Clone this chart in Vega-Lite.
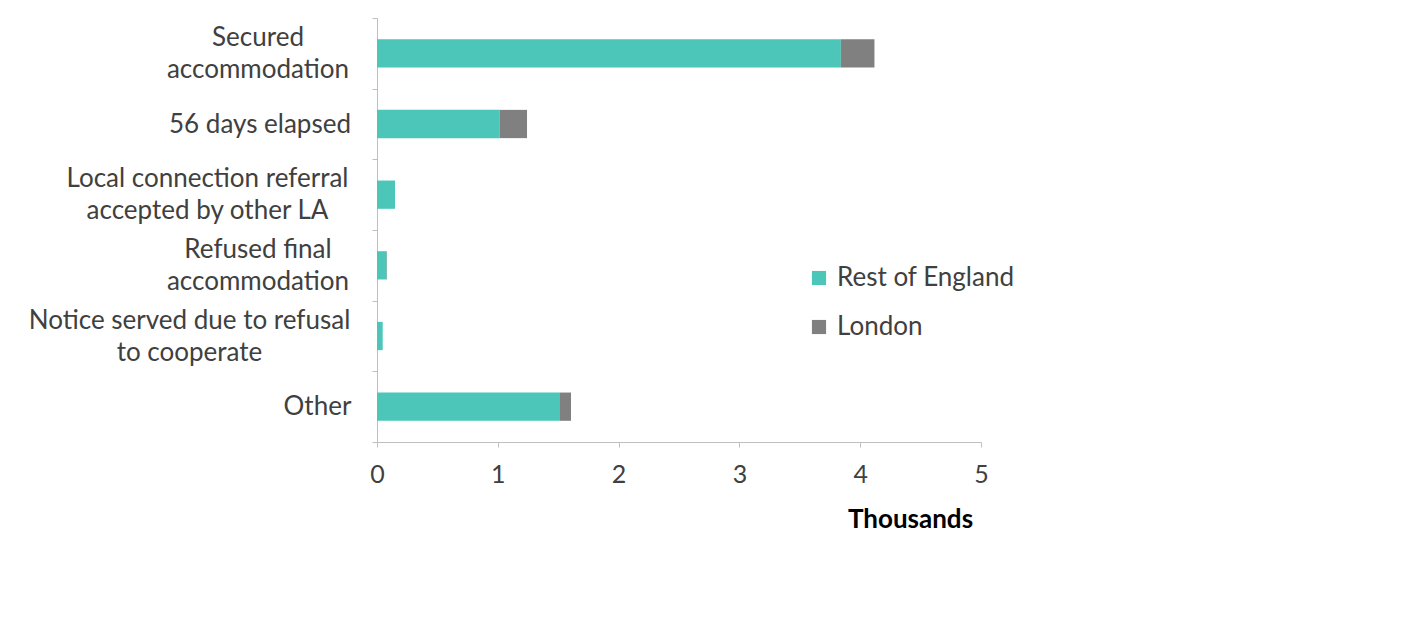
{
  "$schema": "https://vega.github.io/schema/vega-lite/v6.json",
  "width": 604,
  "height": 424,
  "autosize": {"type": "none"},
  "padding": {"left": 377, "top": 18, "right": 438, "bottom": 176},
  "background": "white",
  "config": {
    "view": {"stroke": null},
    "font": "Lato"
  },
  "data": {
    "values": [
      {"reason": "Secured accommodation", "region": "Rest of England", "thousands": 3.84},
      {"reason": "Secured accommodation", "region": "London", "thousands": 0.278},
      {"reason": "56 days elapsed", "region": "Rest of England", "thousands": 1.016},
      {"reason": "56 days elapsed", "region": "London", "thousands": 0.226},
      {"reason": "Local connection referral accepted by other LA", "region": "Rest of England", "thousands": 0.149},
      {"reason": "Local connection referral accepted by other LA", "region": "London", "thousands": 0.0},
      {"reason": "Refused final accommodation", "region": "Rest of England", "thousands": 0.08},
      {"reason": "Refused final accommodation", "region": "London", "thousands": 0.003},
      {"reason": "Notice served due to refusal to cooperate", "region": "Rest of England", "thousands": 0.047},
      {"reason": "Notice served due to refusal to cooperate", "region": "London", "thousands": 0.0},
      {"reason": "Other", "region": "Rest of England", "thousands": 1.515},
      {"reason": "Other", "region": "London", "thousands": 0.091}
    ]
  },
  "mark": {"type": "bar", "height": {"band": 0.4}},
  "encoding": {
    "y": {
      "field": "reason",
      "type": "nominal",
      "sort": null,
      "scale": {"paddingInner": 0, "paddingOuter": 0},
      "axis": {
        "title": null,
        "tickBand": "extent",
        "domainColor": "#BFBFBF",
        "tickColor": "#BFBFBF",
        "tickSize": 5,
        "labelFont": "Lato",
        "labelFontSize": 26,
        "labelColor": "#404040",
        "labelAlign": "center",
        "labelBaseline": "middle",
        "labelLineHeight": 32,
        "labelLimit": 0,
        "labelOffset": {
          "condition": [
            {"test": "datum.value == '56 days elapsed' || datum.value == 'Other'", "value": 0}
          ],
          "value": -16
        },
        "labelPadding": {
          "condition": [
            {"test": "datum.value == 'Secured accommodation'", "value": 114.5},
            {"test": "datum.value == '56 days elapsed'", "value": 112.5},
            {"test": "datum.value == 'Local connection referral accepted by other LA'", "value": 165},
            {"test": "datum.value == 'Refused final accommodation'", "value": 114.5},
            {"test": "datum.value == 'Notice served due to refusal to cooperate'", "value": 183}
          ],
          "value": 55
        },
        "labelExpr": "datum.value == 'Secured accommodation' ? ['Secured', 'accommodation'] : datum.value == 'Local connection referral accepted by other LA' ? ['Local connection referral', 'accepted by other LA'] : datum.value == 'Refused final accommodation' ? ['Refused final', 'accommodation'] : datum.value == 'Notice served due to refusal to cooperate' ? ['Notice served due to refusal', 'to cooperate'] : datum.value"
      }
    },
    "x": {
      "field": "thousands",
      "type": "quantitative",
      "stack": "zero",
      "scale": {"domain": [0, 5], "nice": false},
      "axis": {
        "title": "Thousands",
        "values": [0, 1, 2, 3, 4, 5],
        "grid": false,
        "labelFlush": false,
        "domainColor": "#BFBFBF",
        "tickColor": "#BFBFBF",
        "tickSize": 5,
        "labelFont": "Lato",
        "labelFontSize": 25,
        "labelColor": "#404040",
        "labelPadding": 15,
        "titleFont": "Lato",
        "titleFontSize": 26,
        "titleFontWeight": "bold",
        "titleColor": "#000000",
        "titleX": 533,
        "titleY": 77,
        "titleBaseline": "middle",
        "titleAlign": "center"
      }
    },
    "color": {
      "field": "region",
      "type": "nominal",
      "scale": {"domain": ["Rest of England", "London"], "range": ["#4BC6B9", "#808080"]},
      "legend": {
        "title": null,
        "orient": "none",
        "legendX": 429,
        "legendY": 247,
        "padding": 0,
        "symbolType": "square",
        "symbolSize": 200,
        "symbolStrokeWidth": 0,
        "symbolOpacity": 1,
        "labelFont": "Lato",
        "labelFontSize": 26,
        "labelColor": "#404040",
        "labelOffset": 5,
        "labelLimit": 0,
        "rowPadding": 23
      }
    },
    "order": {"field": "region", "sort": "descending"}
  }
}
